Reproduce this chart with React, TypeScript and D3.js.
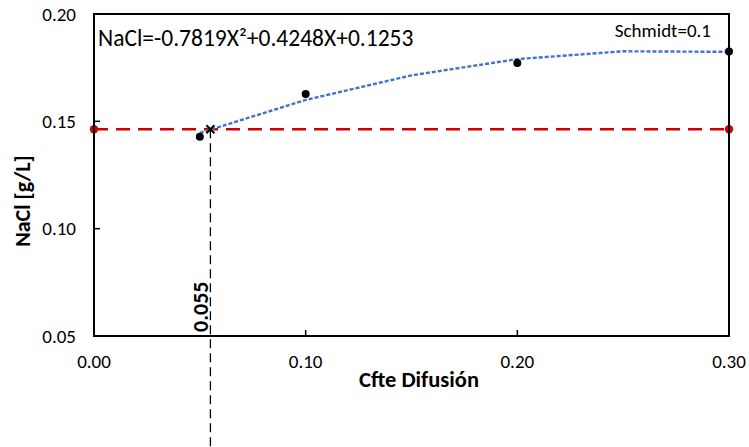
import React from "react";
import * as d3 from "d3";

const pointsX = [0.05, 0.1, 0.2, 0.3];
const pointsY = [0.1428, 0.1627, 0.1772, 0.1825];
const trendCoef = [-0.7819, 0.4248, 0.1253]; // a, b, c
const trendXs = [0.05, 0.1, 0.15, 0.2, 0.25, 0.3];
const targetY = 0.1463;
const targetX = 0.055;
const xTicks = [0.0, 0.1, 0.2, 0.3];
const yTicks = [0.05, 0.1, 0.15, 0.2];
const equationLabel = "NaCl=-0.7819X²+0.4248X+0.1253";
const seriesLabel = "Schmidt=0.1";
const xTitle = "Cfte Difusión";
const yTitle = "NaCl [g/L]";

const W = 749, H = 447;
const L = 94, R = 729, T = 14, B = 336;
const font = "Calibri, Carlito, 'Open Sans', sans-serif";

export default function App() {
  const x = d3.scaleLinear().domain([0, 0.3]).range([L, R]);
  const y = d3.scaleLinear().domain([0.05, 0.2]).range([B, T]);
  const [a, b, c] = trendCoef;
  const trendPts: [number, number][] = trendXs.map((v) => [v, a * v * v + b * v + c]);
  const line = d3.line<[number, number]>().x((d) => x(d[0])).y((d) => y(d[1]));
  const tx = x(targetX), ty = y(targetY);
  return (
    <svg width={W} height={H} style={{ position: "absolute", left: 0, top: 0, background: "#fff" }}>
      <line x1={x(0)} x2={x(0.3)} y1={ty} y2={ty} stroke="#d00000" strokeWidth={2.5} strokeDasharray="14,8" />
      <line x1={tx} x2={tx} y1={ty} y2={H} stroke="#000" strokeWidth={1.3} strokeDasharray="9,5" />
      <path d={line(trendPts) || ""} fill="none" stroke="#4472c4" strokeWidth={2.4} strokeDasharray="4,2" />
      {pointsX.map((v, i) => (
        <circle key={i} cx={x(v)} cy={y(pointsY[i])} r={4} fill="#000" />
      ))}
      <circle cx={x(0)} cy={ty} r={4.2} fill="#d00000" />
      <circle cx={x(0.3)} cy={ty} r={4.2} fill="#d00000" />
      <g stroke="#000" strokeWidth={2}>
        <line x1={tx - 4} x2={tx + 4} y1={ty - 4} y2={ty + 4} />
        <line x1={tx - 4} x2={tx + 4} y1={ty + 4} y2={ty - 4} />
      </g>
      <rect x={L} y={T} width={R - L} height={B - T} fill="none" stroke="#000" strokeWidth={2} />
      {yTicks.map((t) => (
        <g key={t}>
          <line x1={L} x2={L + 6} y1={y(t)} y2={y(t)} stroke="#000" strokeWidth={1.5} />
          <text x={76} y={y(t) + 6.5} textAnchor="end" fontFamily={font} fontSize={19} fill="#000">{t.toFixed(2)}</text>
        </g>
      ))}
      {xTicks.map((t) => (
        <g key={t}>
          <line x1={x(t)} x2={x(t)} y1={B} y2={B - 6} stroke="#000" strokeWidth={1.5} />
          <text x={x(t)} y={368} textAnchor="middle" fontFamily={font} fontSize={19} fill="#000">{t.toFixed(2)}</text>
        </g>
      ))}
      <text x={419} y={387} textAnchor="middle" fontFamily={font} fontSize={22.5} fontWeight="bold" fill="#000">{xTitle}</text>
      <text transform={`translate(30,201) rotate(-90)`} textAnchor="middle" fontFamily={font} fontSize={22} fontWeight="bold" fill="#000">{yTitle}</text>
      <text x={98} y={46} fontFamily={font} fontSize={23.5} fill="#000">{equationLabel}</text>
      <text x={711} y={37} textAnchor="end" fontFamily={font} fontSize={19} fill="#000">{seriesLabel}</text>
      <text transform={`translate(${tx - 2},${332}) rotate(-90)`} fontFamily={font} fontSize={22} fontWeight="bold" fill="#000">{targetX.toString()}</text>
    </svg>
  );
}
